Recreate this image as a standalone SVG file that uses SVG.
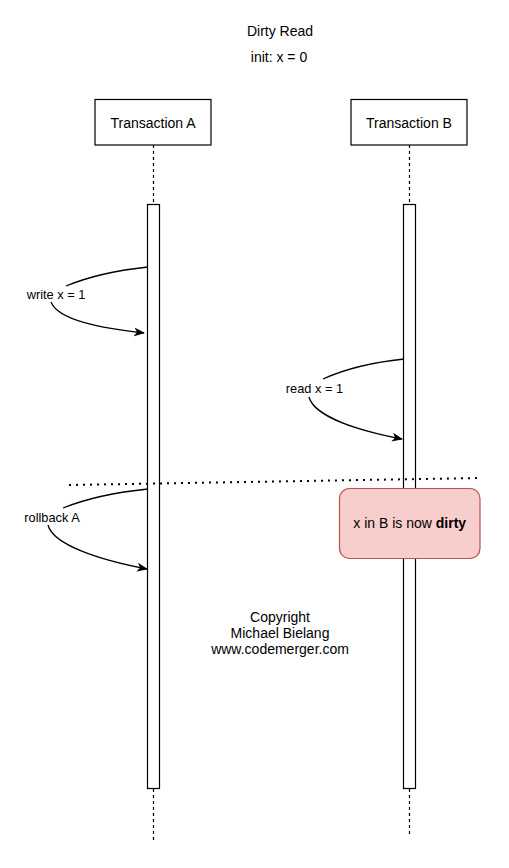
<svg xmlns="http://www.w3.org/2000/svg" width="509" height="868" viewBox="0 0 509 868">
<defs>
<marker id="arr" markerUnits="userSpaceOnUse" markerWidth="12" markerHeight="10" refX="10" refY="4.5" orient="auto">
<path d="M0,0 L11,4.5 L0,9 L3,4.5 z" fill="#000"/>
</marker>
<style>
text{font-family:"Liberation Sans",Arial,sans-serif;fill:#000}
.t14{font-size:14px;text-anchor:middle}
.lbl{font-size:12.8px;text-anchor:middle}
.box{fill:#fff;stroke:#000;stroke-width:1.2}
.life{stroke:#000;stroke-width:1.2;stroke-dasharray:3 3;fill:none}
.bar{fill:#fff;stroke:#000;stroke-width:1.2}
.edge{fill:none;stroke:#000;stroke-width:1.3;}
</style>
</defs>
<rect width="509" height="868" fill="#fff"/>
<text class="t14" x="280" y="36">Dirty Read</text>
<text class="t14" x="279" y="62">init: x = 0</text>

<g id="txA">
<line class="life" x1="153.5" y1="145" x2="153.5" y2="205"/>
<line class="life" x1="153.5" y1="789" x2="153.5" y2="842"/>
<rect class="box" x="95" y="99.5" width="116" height="45.5"/>
<text class="t14" x="153" y="128">Transaction A</text>
<rect class="bar" x="147.5" y="204.5" width="12" height="584"/>
</g>
<g id="txB">
<line class="life" x1="409.5" y1="145" x2="409.5" y2="205"/>
<line class="life" x1="409.5" y1="789" x2="409.5" y2="837"/>
<rect class="box" x="351" y="99.5" width="116" height="45.5"/>
<text class="t14" x="409" y="128">Transaction B</text>
<rect class="bar" x="403.5" y="204.5" width="12" height="584"/>
</g>

<g id="connectors">
<path class="edge" d="M148,267 Q100,272 66,286"/>
<path class="edge" d="M51,302 C58,320 100,328 144,333" marker-end="url(#arr)"/>
<path class="edge" d="M404,359 Q356,364 323,379"/>
<path class="edge" d="M309,397 C314,416 356,430 402,439" marker-end="url(#arr)"/>
<path class="edge" d="M148,489 Q98,494 63,508"/>
<path class="edge" d="M48,525 C53,545 100,560 147,569" marker-end="url(#arr)"/>
<line x1="69" y1="485" x2="480" y2="478" stroke="#000" stroke-width="2" stroke-dasharray="2 5"/>
</g>

<g id="lblWrite"><text class="lbl" x="56" y="298.5">write x = 1</text></g>
<g id="lblRead"><text class="lbl" x="314.5" y="392.5">read x = 1</text></g>
<g id="lblRollback"><text class="lbl" x="52" y="521.5">rollback A</text></g>

<g id="dirty">
<rect x="339.5" y="488.5" width="140.5" height="70" rx="10" fill="#f8cecc" stroke="#b85450" stroke-width="1.2"/>
<text class="t14" x="409.7" y="528">x in B is now <tspan font-weight="bold">dirty</tspan></text>
</g>

<g id="copyright">
<text class="t14" x="280" y="622">Copyright</text>
<text class="t14" x="280" y="638">Michael Bielang</text>
<text class="t14" x="280" y="654">www.codemerger.com</text>
</g>
</svg>
